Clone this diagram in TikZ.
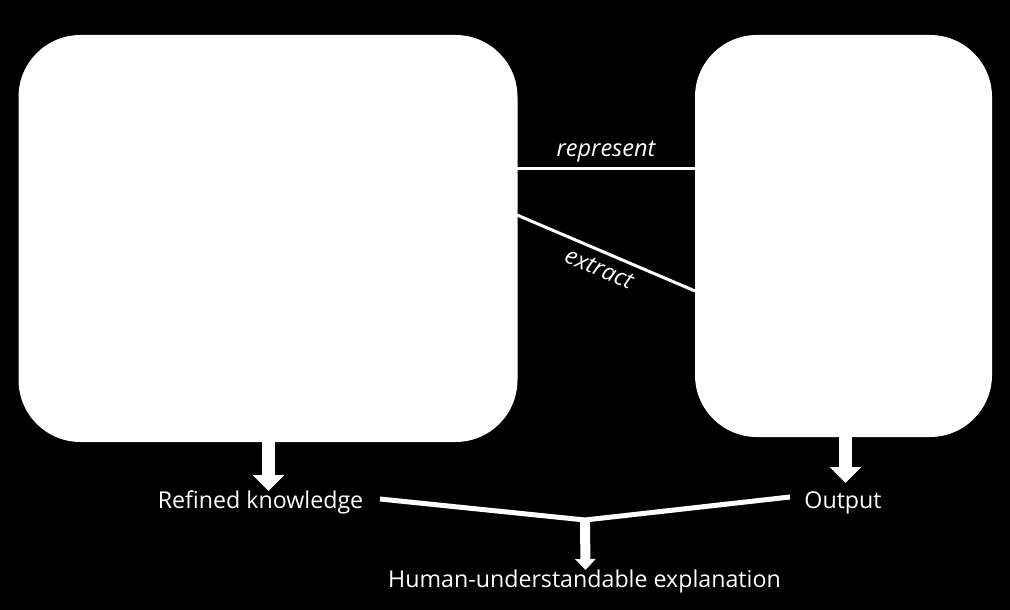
\documentclass[tikz,border=0pt]{standalone}
\usepackage{fontspec}
\setmainfont{Open Sans}
\usetikzlibrary{arrows.meta}
\begin{document}
\begin{tikzpicture}[x=1pt,y=-1pt,
  panel/.style={fill=white,draw=none,rounded corners=62pt,inner sep=0pt},
  lbl/.style={text=white,font=\fontsize{23.2}{27}\selectfont,inner sep=0pt},
  ilbl/.style={text=white,font=\fontsize{23.5}{27}\selectfont\itshape,inner sep=0pt},
  thinline/.style={white,line width=3pt},
  joinline/.style={white,line width=5pt},
  bigarrow/.style={white,line width=13pt,-{Triangle[width=31pt,length=16pt]}}]
\fill[black] (0,0) rectangle (1010,610);
\useasboundingbox (0,0) rectangle (1010,610);
\node[panel,minimum width=499pt,minimum height=407pt] (L) at (268,238.5) {};
\node[panel,minimum width=297pt,minimum height=402pt] (R) at (843.5,236) {};
\coordinate (rA) at (517,168);
\coordinate (rB) at (695,168);
\coordinate (eA) at (517,215);
\coordinate (eB) at (695,291);
\draw[thinline] (rA) -- (rB) node[ilbl,midway,above=4pt] {represent};
\draw[thinline] (eA) -- (eB) node[ilbl,midway,sloped,below=8pt] {extract};
\node[lbl] (K) at (260.5,502.5) {Refined knowledge};
\node[lbl] (O) at (843,502.5) {Output};
\node[lbl] (H) at (584.5,581) {Human-understandable explanation};
\coordinate (J) at (585,520);
\coordinate (kE) at (380,499);
\coordinate (oW) at (790,497);
\draw[joinline] (kE) -- (J) -- (oW);
\draw[bigarrow] (L.south -| 268.5,0) -- (268.5,491);
\draw[bigarrow] (R.south -| 845.5,0) -- (845.5,483);
\draw[white,line width=10pt,-{Triangle[width=20pt,length=11pt]}] (J) -- (585.5,570);
\end{tikzpicture}
\end{document}
